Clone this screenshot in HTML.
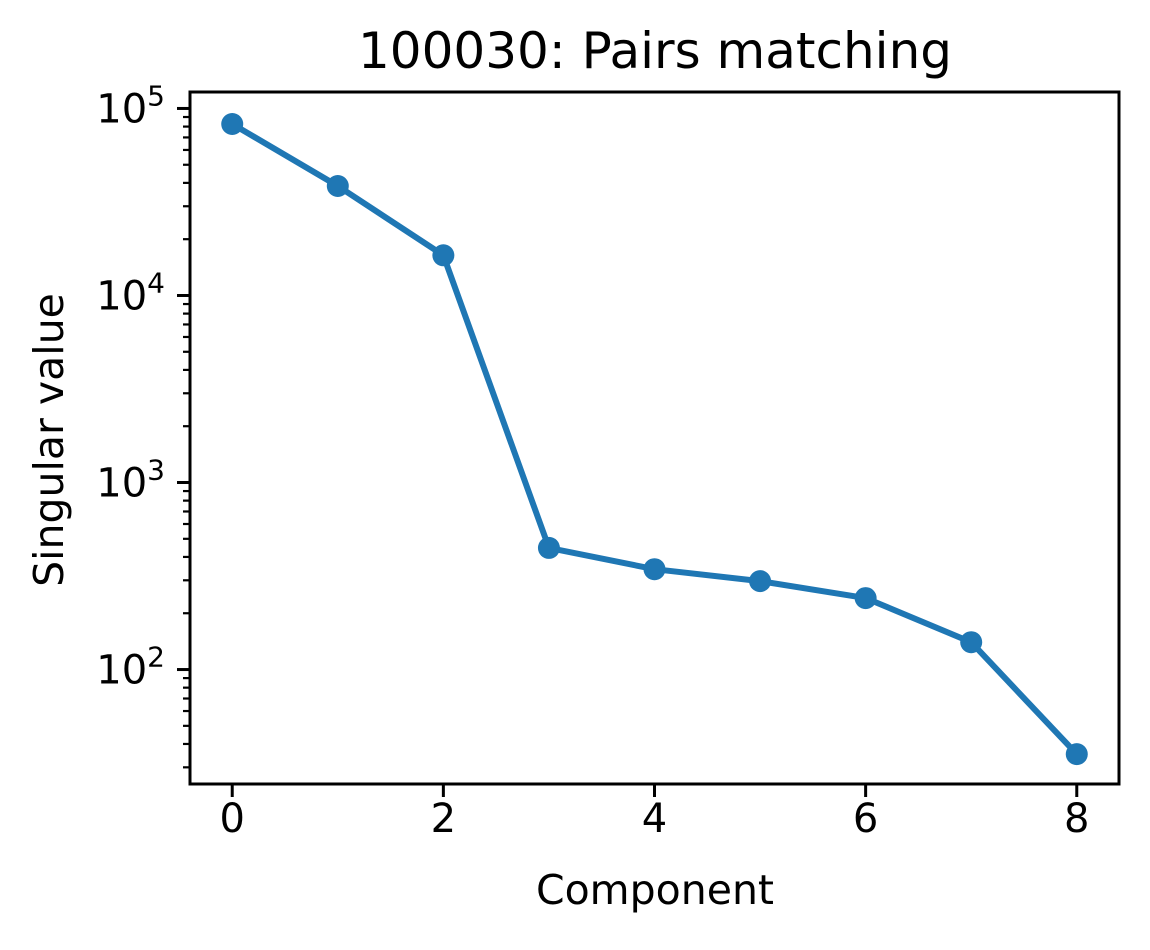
<!DOCTYPE html>
<html><head><meta charset="utf-8"><style>
body{margin:0;background:#fff;}
svg text{font-family:"DejaVu Sans","Liberation Sans",sans-serif;fill:#000;}
</style></head><body>
<svg id="chart" width="1150" height="945">
<text x="655" y="68" font-size="50" text-anchor="middle">100030: Pairs matching</text>
<text x="655" y="904" font-size="41" text-anchor="middle">Component</text>
<text transform="translate(63,440) rotate(-90)" font-size="41" text-anchor="middle">Singular value</text>
<g id="ticks"></g>
<g id="series"></g>
<rect x="190" y="92" width="929" height="692" fill="none" stroke="#000" stroke-width="3"/>
</svg>
<script>
const categories=[0,1,2,3,4,5,6,7,8];
const values=[82600,38500,16400,447,344,297,241,140,35.3];
const xTicks=[0,2,4,6,8];
const yDecades=[2,3,4,5];
const L=190,R=1119,T=92,B=784;
const xMin=-0.4,xMax=8.4,lMin=1.388,lMax=5.088;
const sx=v=>L+(v-xMin)/(xMax-xMin)*(R-L);
const sy=v=>B-(Math.log10(v)-lMin)/(lMax-lMin)*(B-T);
const NS="http://www.w3.org/2000/svg";
const tg=document.getElementById('ticks'),sg=document.getElementById('series');
function mk(t,a,p){const e=document.createElementNS(NS,t);for(const k in a)e.setAttribute(k,a[k]);p.appendChild(e);return e;}
xTicks.forEach(v=>{const x=sx(v);
const l=mk('line',{x1:x,x2:x,y1:B,y2:B+13,stroke:'#000','stroke-width':3},tg);


const t=mk('text',{x:x,y:B+48,'font-size':40,'text-anchor':'middle'},tg);t.textContent=v;

});
for(let d=1;d<=5;d++){for(let m=1;m<10;m++){const v=m*Math.pow(10,d);const lv=Math.log10(v);if(lv<lMin||lv>lMax)continue;const y=sy(v);const major=m===1;
const l=mk('line',{x1:L,x2:L-(major?13:7),y1:y,y2:y,stroke:'#000','stroke-width':major?3:2.2},tg);

}}
yDecades.forEach(d=>{const y=sy(Math.pow(10,d));
const t=mk('text',{x:165,y:y+14,'font-size':40,'text-anchor':'end'},tg);
t.innerHTML='10<tspan dy="-17" font-size="28">'+d+'</tspan>';

});
const pts=categories.map((c,i)=>sx(c)+','+sy(values[i])).join(' ');
const pl=mk('polyline',{points:pts,fill:'none',stroke:'#1f77b4','stroke-width':6,'stroke-linejoin':'round'},sg);


categories.forEach((c,i)=>{const p=mk('circle',{cx:sx(c),cy:sy(values[i]),r:11,fill:'#1f77b4'},sg);

});
</script>
</body></html>
